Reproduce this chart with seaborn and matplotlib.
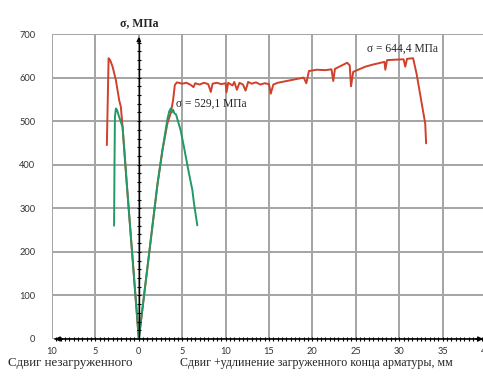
import numpy as np
import pandas as pd
import matplotlib
matplotlib.use("Agg")
import matplotlib.pyplot as plt
import seaborn as sns
from matplotlib.ticker import FuncFormatter

# ---- data ----
red_left_x = [0.0, -0.7, -1.4, -1.87, -2.07, -2.26, -2.64, -3.02, -3.3, -3.48, -3.68]
red_left_y = [0, 180, 360, 487, 533, 548, 594, 625, 640, 644.4, 445]

red_right_x = [0.0, 1.0, 2.15, 2.72, 3.3, 3.67, 3.95, 4.15, 4.4, 5.0, 5.5, 6.0, 6.3, 6.5, 7.0,
               7.5, 8.0, 8.3, 8.5, 9.0, 9.5, 10.0, 10.1, 10.3, 10.8, 11.0, 11.3, 11.6, 12.0,
               12.3, 12.6, 13.0, 13.5, 14.0, 14.5, 15.0, 15.2, 15.5, 16.0, 17.0, 18.0, 19.0,
               19.3, 19.6, 20.5, 21.5, 22.2, 22.4, 22.6, 23.2, 24.0, 24.3, 24.45, 24.7, 25.5,
               26.1, 27.0, 28.3, 28.4, 28.6, 29.5, 30.5, 30.7, 30.9, 31.6, 32.0, 32.4, 32.8,
               33.0, 33.1]
red_right_y = [0, 165, 355, 433, 495, 518, 548, 583, 589, 586, 588, 583, 578, 587, 584,
               588, 585, 567, 586, 588, 585, 587, 566, 588, 582, 590, 572, 588, 584,
               570, 590, 586, 589, 584, 587, 585, 563, 584, 588, 592, 596, 600,
               587, 615, 618, 617, 619, 592, 620, 626, 634, 628, 580, 613, 620,
               625, 630, 636, 618, 640, 641, 642, 625, 643, 644.4, 609, 563, 517,
               494, 449]

green_left_x = [0.0, -0.7, -1.4, -1.87, -2.1, -2.3, -2.5, -2.64, -2.75, -2.8, -2.85]
green_left_y = [0, 180, 360, 487, 500, 512, 525, 529.1, 510, 400, 260]

green_right_x = [0.0, 1.0, 2.15, 2.72, 3.0, 3.3, 3.5, 3.67, 3.8, 3.95, 4.1, 4.3, 4.44,
                 4.82, 5.2, 5.78, 6.17, 6.36, 6.74]
green_right_y = [0, 165, 355, 433, 468, 505, 522, 529.1, 520, 526, 518, 515, 505,
                 479, 441, 380, 342, 311, 261]

x_ticks = list(range(-10, 41, 5))
y_ticks = list(range(0, 701, 100))

label_left = "Сдвиг незагруженного"
label_right = "Сдвиг +удлинение загруженного конца арматуры, мм"
y_title = "σ, МПа"
note_max_bond = "σ = 529,1 МПа"
note_max_total = "σ = 644,4 МПа"

# ---- table ----
frames = []
for name, br, xs, ys in [("red", "rl", red_left_x, red_left_y),
                         ("red", "rr", red_right_x, red_right_y),
                         ("green", "gl", green_left_x, green_left_y),
                         ("green", "gr", green_right_x, green_right_y)]:
    frames.append(pd.DataFrame({"x": xs, "y": ys, "series": name, "branch": br}))
df = pd.concat(frames, ignore_index=True)

sns.set_style("white")
serif = ["Liberation Serif", "DejaVu Serif"]
tickfont = ["Lato", "DejaVu Sans"]

fig = plt.figure(figsize=(4.83, 3.79), dpi=100)
ax = fig.add_axes([52 / 483, 1 - 339 / 379, (486 - 52) / 483, (339 - 34) / 379])

sns.lineplot(data=df, x="x", y="y", hue="series", units="branch", estimator=None,
             sort=False, palette={"red": "#d0402a", "green": "#229a66"},
             linewidth=1.4, legend=False, ax=ax, zorder=3)

ax.set_xlim(-10, 40)
ax.set_ylim(0, 700)
ax.set_xticks(x_ticks)
ax.set_yticks(y_ticks)
ax.xaxis.set_major_formatter(FuncFormatter(lambda v, p: f"{abs(int(round(v)))}"))
ax.grid(True, color="#a4a4a4", linewidth=1.4)
ax.set_axisbelow(True)
for s in ax.spines.values():
    s.set_visible(False)
ax.tick_params(axis="both", length=0, labelsize=6.7, colors="#333333")
ax.tick_params(axis="y", pad=12)
ax.tick_params(axis="x", pad=6)
for lab in ax.get_xticklabels() + ax.get_yticklabels():
    lab.set_family(tickfont)
ax.set_xlabel("")
ax.set_ylabel("")

# center axes with arrows and small ticks
ax.plot([-9.6, 39.6], [0, 0], color="black", lw=1.2, zorder=4, clip_on=False)
ax.plot([0, 0], [0, 690], color="black", lw=1.0, zorder=4, clip_on=False)
ax.annotate("", xy=(-10, 0), xytext=(-8.5, 0),
            arrowprops=dict(arrowstyle="-|>", color="black", lw=1.0, mutation_scale=7),
            annotation_clip=False, zorder=5)
ax.annotate("", xy=(40, 0), xytext=(38.5, 0),
            arrowprops=dict(arrowstyle="-|>", color="black", lw=1.0, mutation_scale=7),
            annotation_clip=False, zorder=5)
ax.annotate("", xy=(0, 700), xytext=(0, 680),
            arrowprops=dict(arrowstyle="-|>", color="black", lw=1.0, mutation_scale=6),
            annotation_clip=False, zorder=5)
xm = np.arange(-9.5, 40, 0.5)
ax.plot(xm, np.zeros_like(xm), ls="none", marker="|", ms=3, mew=0.8, color="black",
        zorder=4, clip_on=False)
ym = np.arange(20, 700, 20)
ax.plot(np.zeros_like(ym), ym, ls="none", marker="_", ms=3, mew=0.8, color="black",
        zorder=4, clip_on=False)

ax.text(0, 725, y_title, ha="center", va="center", fontsize=8.5, fontweight="bold",
        family=serif, clip_on=False)
ax.text(4.25, 541, note_max_bond, ha="left", va="center", fontsize=8.3, family=serif, zorder=6)
ax.text(26.3, 667, note_max_total, ha="left", va="center", fontsize=8.3, family=serif, zorder=6)

fig.text(8 / 483, 1 - 363 / 379, label_left, ha="left", va="center", fontsize=9.3,
         family=serif)
fig.text(180 / 483, 1 - 363 / 379, label_right, ha="left", va="center", fontsize=8.6,
         family=serif)

fig.savefig("out.png", dpi=100, facecolor="white")
